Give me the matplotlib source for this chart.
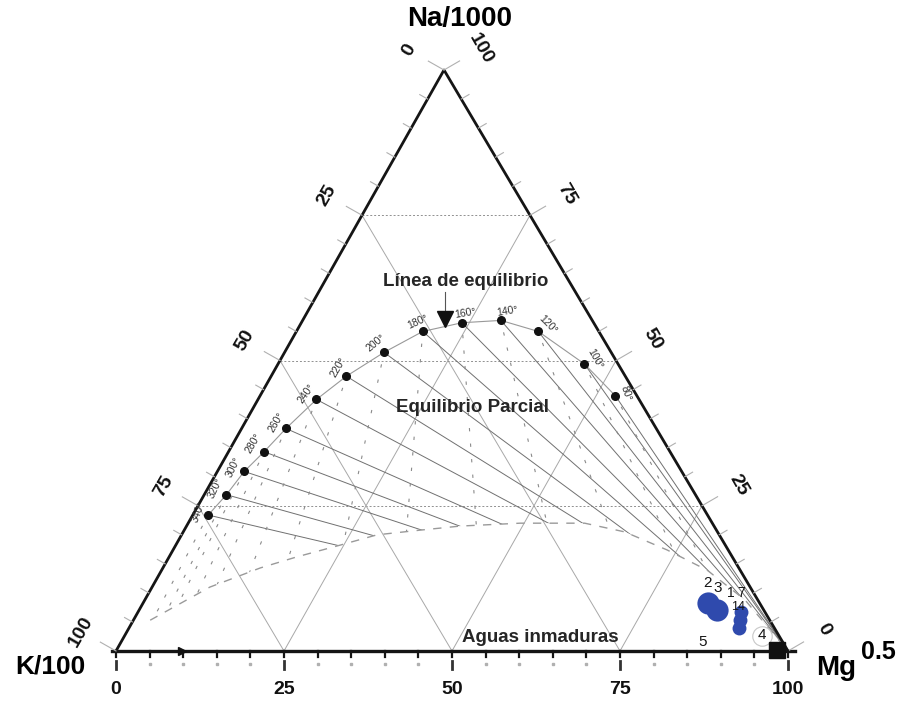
import numpy as np
import matplotlib.pyplot as plt
from matplotlib.patches import Polygon

plt.rcParams['font.family'] = ['Liberation Sans', 'DejaVu Sans']

# full equilibrium line: temperature and % Na/1000, % Mg^0.5 of each point
temps = [340, 320, 300, 280, 260, 240, 220, 200, 180, 160, 140, 120, 100, 80]
eq_na = [23.4, 26.9, 30.9, 34.3, 38.3, 43.3, 47.3, 51.4, 55.0, 56.5, 56.9, 55.0, 49.4, 43.9]
eq_mg = [2.3, 3.3, 4.0, 5.3, 6.6, 8.7, 11.2, 14.8, 18.8, 23.9, 29.5, 36.0, 45.6, 52.9]

# boundary between partial equilibrium and immature waters
imm_na = [5.3, 11.0, 14.3, 16.2, 18.2, 20.0, 20.8, 21.5, 22.0, 22.0, 20.5, 17.4, 13.9, 8.8, 0.0]
imm_mg = [2.5, 8.6, 14.5, 19.0, 24.4, 29.1, 35.1, 40.7, 49.4, 59.0, 65.7, 73.5, 81.2, 89.3, 100.0]

# water samples
samp_id = ['2', '3', '1', '7', '14', '4', '5']
samp_na = [8.3, 7.1, 6.7, 5.3, 4.0, 2.6, 0.2]
samp_mg = [84.1, 86.0, 89.7, 90.3, 90.8, 94.9, 98.2]

# equilibrium marker
mark_na, mark_mg = 57.2, 21.0

tick_major = [0, 25, 50, 75, 100]

# corners of the triangle on the page
V_K = np.array([116.0, 651.0])
V_MG = np.array([788.0, 651.0])
V_NA = np.array([444.0, 70.0])


def tern(na, mg):
    na = np.asarray(na, dtype=float) / 100.0
    mg = np.asarray(mg, dtype=float) / 100.0
    k = 1.0 - na - mg
    x = k * V_K[0] + mg * V_MG[0] + na * V_NA[0]
    y = k * V_K[1] + mg * V_MG[1] + na * V_NA[1]
    return x, y


fig = plt.figure(figsize=(9.02, 7.08), dpi=100)
ax = fig.add_axes([0, 0, 1, 1])
ax.set_xlim(0, 902)
ax.set_ylim(708, 0)
ax.axis('off')

grey = '#8a8a8a'

# 25 % grid
for v in [25, 50, 75]:
    x, y = tern([100 - v, 0], [0, 100 - v])      # constant K
    ax.plot(x, y, color='#a8a8a8', lw=0.7)
    x, y = tern([0, 100 - v], [v, v])            # constant Mg
    ax.plot(x, y, color='#a8a8a8', lw=0.7)
    x, y = tern([v, v], [0, 100 - v])            # constant Na
    ax.plot(x, y, color='#909090', lw=0.7, ls=(0, (2, 2)))

# region above the immature water line
bx, by = tern(imm_na, imm_mg)
poly = np.column_stack([np.r_[bx, V_NA[0], V_K[0]], np.r_[by, V_NA[1], V_K[1]]])
clip = Polygon(poly, closed=True, transform=ax.transData)

ex, ey = tern(eq_na, eq_mg)
for x0, y0 in zip(ex, ey):
    # Na/K isotherm towards the Mg corner
    ln, = ax.plot([x0, V_MG[0]], [y0, V_MG[1]], color='#707070', lw=0.7)
    ln.set_clip_path(clip)
    # K/Mg isotherm away from the Na corner
    dx, dy = x0 - V_NA[0], y0 - V_NA[1]
    ln, = ax.plot([x0, x0 + 3 * dx], [y0, y0 + 3 * dy], color=grey, lw=0.8,
                  ls=(3, (3, 11)))
    ln.set_clip_path(clip)

ax.plot(bx, by, color='#9a9a9a', lw=1.0, ls=(0, (6, 6)))

# full equilibrium line
ax.plot(ex, ey, color='#999999', lw=0.8)
ax.plot(ex, ey, 'o', color='#111111', ms=5.5)

t_off = [(-10, -3), (-11, -7), (-11, -4), (-11, -9), (-10, -6), (-10, -6), (-8, -9),
         (-8, -10), (-5, -10), (3, -10), (6, -9), (10, -7), (11, -5), (11, -3)]
t_rot = [70, 65, 65, 60, 60, 55, 60, 40, 25, 10, 10, -45, -60, -70]
for t, x0, y0, (ox, oy), r in zip(temps, ex, ey, t_off, t_rot):
    ax.text(x0 + ox, y0 + oy, f'{t}°', fontsize=7.5, color='#333333', rotation=r,
            ha='center', va='center')

# triangle frame
ax.plot([V_K[0], V_NA[0], V_MG[0]], [V_K[1], V_NA[1], V_MG[1]], color='#151515', lw=2.0)
bx0, by0 = tern([0, 0], [-0.6, 101])
ax.plot(bx0, by0, color='#151515', lw=2.4)

# edge ticks and labels
d_left = np.array([-0.870, -0.493])
d_right = np.array([0.865, -0.503])
for v in range(0, 101, 5):
    ln = 18 if v % 25 == 0 else 9
    x, y = tern(100 - v, 0)
    ax.plot([x, x + ln * d_left[0]], [y, y + ln * d_left[1]], color='#b0b0b0', lw=0.8)
    x, y = tern(v, 100 - v)
    ax.plot([x, x + ln * d_right[0]], [y, y + ln * d_right[1]], color='#b0b0b0', lw=0.8)
    x, y = tern(0, v)
    ax.plot([x, x], [y, y + 6], color='#151515', lw=1.6)
    if v % 25 == 0:
        ax.plot([x, x], [y + 10, y + 18], color='#333333', lw=2.0)
    else:
        ax.plot([x], [y + 13], 's', color='#b0b0b0', ms=1.5)

for v in tick_major:
    x, y = tern(100 - v, 0)
    ax.text(x + 40 * d_left[0], y + 40 * d_left[1], str(v), fontsize=14, fontweight='bold',
            rotation=60, ha='center', va='center', color='#111111')
    x, y = tern(v, 100 - v)
    ax.text(x + 42 * d_right[0], y + 42 * d_right[1], str(v), fontsize=14, fontweight='bold',
            rotation=-60, ha='center', va='center', color='#111111')
    x, y = tern(0, v)
    ax.text(x, y + 39, str(v), fontsize=14, fontweight='bold', ha='center', va='center',
            color='#111111')

# corner titles
ax.text(460, 19, 'Na/1000', fontsize=20, fontweight='bold', ha='center', va='center')
ax.text(50, 667, 'K/100', fontsize=19, fontweight='bold', ha='center', va='center')
ax.text(836, 668, 'Mg', fontsize=20, fontweight='bold', ha='center', va='center')
ax.text(878, 652, '0.5', fontsize=18, fontweight='bold', ha='center', va='center')

# region names
mx, my = tern(mark_na, mark_mg)
ax.plot([mx, mx], [my - 27, my - 6], color='#555555', lw=0.8)
ax.plot(mx, my, 'v', color='#111111', ms=11)
ax.text(466, 281, 'Línea de equilibrio', fontsize=13.5, fontweight='bold', color='#262626',
        ha='center', va='center')
ax.text(472, 407, 'Equilibrio Parcial', fontsize=13.5, fontweight='bold', color='#262626',
        ha='center', va='center')
ax.text(540, 638, 'Aguas inmaduras', fontsize=13.5, fontweight='bold', color='#262626',
        ha='center', va='center')

# samples
sx, sy = tern(samp_na, samp_mg)
blue = '#2f4aad'
ax.plot(sx[:2], sy[:2], 'o', color=blue, ms=16, mec='none')
ax.plot(sx[2:5], sy[2:5], 'o', color=blue, ms=10, mec='none')
ax.plot(sx[5], sy[5], 'o', mfc='none', mec='#c8c8c8', ms=14, mew=0.8)
ax.plot(sx[6], sy[6], 's', color='#111111', ms=11)

s_off = [(-1, -20), (0, -22), (-10, -19), (1, -27), (-1, -21), (0, -1), (-74, -8)]
s_size = [11, 11, 10, 10, 9, 11, 11]
for lab, x0, y0, (ox, oy), fs in zip(samp_id, sx, sy, s_off, s_size):
    ax.text(x0 + ox, y0 + oy, lab, fontsize=fs, color='#151515', ha='center', va='center')

# small wedge on the base line
wx, wy = tern(0, 9.8)
ax.plot(wx, wy, '>', color='#111111', ms=6)

fig.savefig('out.png', dpi=100)
